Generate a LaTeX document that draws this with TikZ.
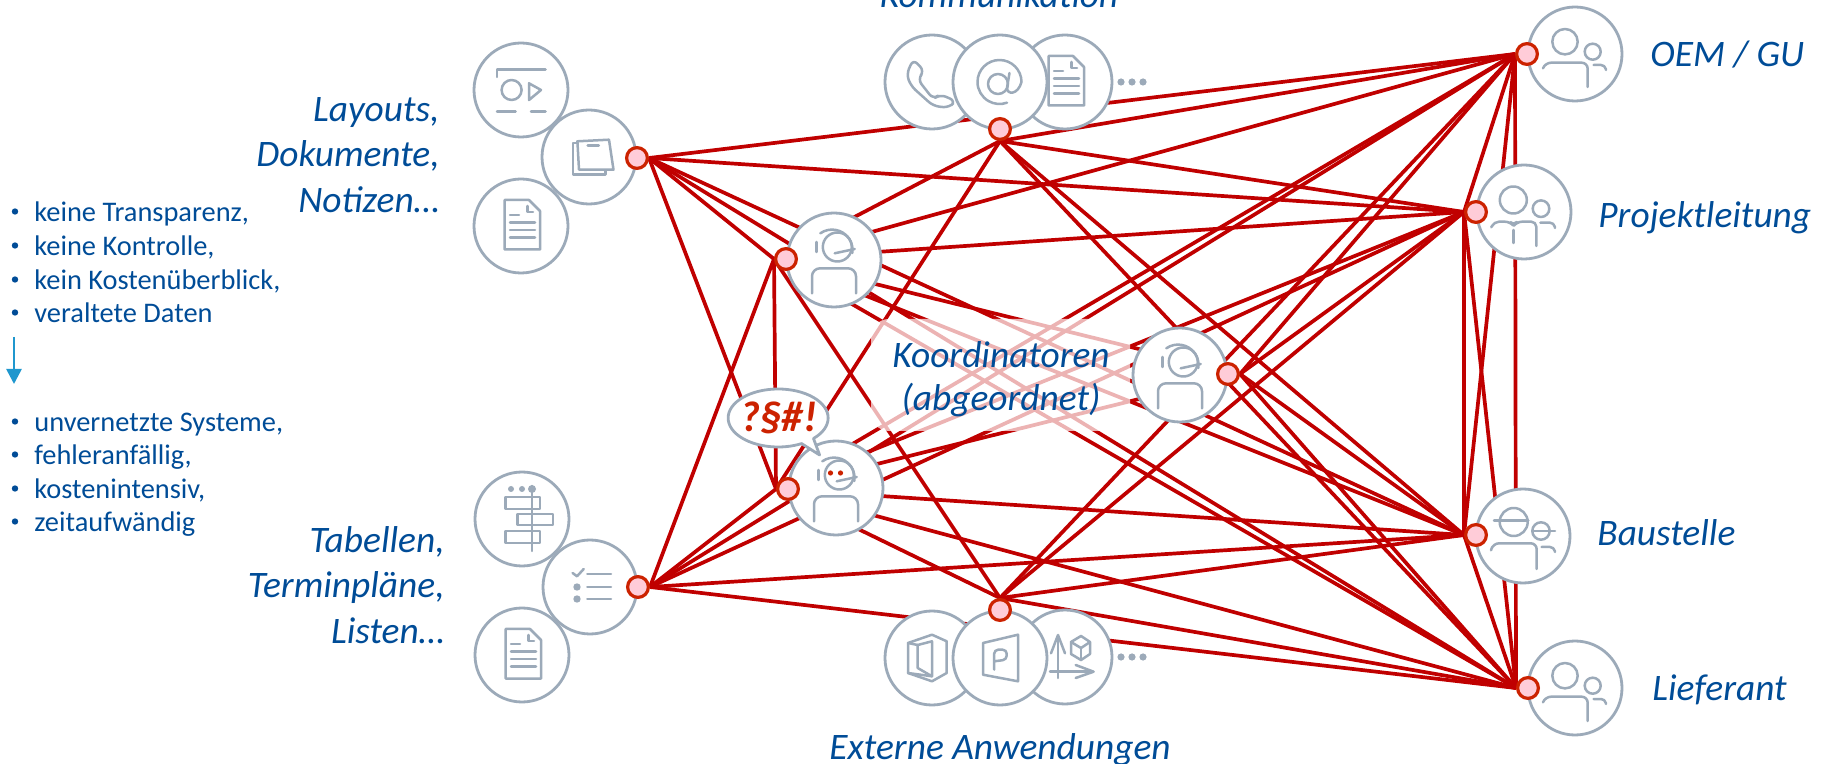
\documentclass[tikz,border=0pt]{standalone}
\usepackage{fontspec}
\setmainfont{Carlito}
\usetikzlibrary{arrows.meta,backgrounds}
\definecolor{linkred}{HTML}{C00000}
\definecolor{dotred}{HTML}{CC2200}
\definecolor{dotpink}{HTML}{FFCCD8}
\definecolor{ringgray}{HTML}{9CAAB9}
\definecolor{textblue}{HTML}{004C97}
\definecolor{arrowblue}{HTML}{1F97CE}
\tikzset{
    personicon/.pic={
        \draw[icon] (-10,-12.3) circle (12.7);
        \draw[icon] (17.7,-2.3) circle (8);
        \draw[icon,rounded corners=3pt] (-32,14.3) -- (-30,8.7) -- (12.7,8.7) -- (12.7,33);
        \draw[icon,rounded corners=2pt] (18.6,11) -- (30,11) -- (31,16);
    },
    leadicon/.pic={
        \draw[icon] (-10.7,-12) circle (13.5);
        \draw[icon] (17,-3.3) circle (8.3);
        \draw[icon,rounded corners=2.5pt] (-32.7,15.3) -- (-30,9.7) -- (-14,9.7) -- (-10.3,14) -- (-7,9.7) -- (12.3,9.7) -- (12.3,34);
        \draw[icon] (-10.3,18) -- (-10.3,31);
        \draw[icon,rounded corners=2pt] (16.3,10.7) -- (30,10.7) -- (31,16);
    },
    siteicon/.pic={
        \draw[icon] (-9.3,-14) circle (14);
        \draw[icon] (-29,-15.7) -- (5.3,-15.7);
        \draw[icon] (18,-5) circle (8.7);
        \draw[icon] (9.7,-5) -- (32,-5);
        \draw[icon,rounded corners=3pt] (-32,14.3) -- (-30,7.3) -- (13.7,7.3) -- (13.7,33);
        \draw[icon,rounded corners=2pt] (18.7,11) -- (31,11) -- (32,16);
    },
    headseticon/.pic={
        \draw[icon] (3.3,-13) circle (14.5);
        \draw[icon] (-13.7,-26.7) arc[start angle=-125,end angle=8,radius=20.5];
        \draw[icon] (-17.7,-18) -- (-17.7,-8);
        \draw[icon] (0.7,-6.7) -- (20.7,-11);
        \draw[icon,rounded corners=4pt] (-22,33.3) -- (-22,8.3) -- (22,8.3) -- (22,33.3);
    },
    docicon/.pic={
        \draw[icon] (-16.5,-26) -- (8,-26) -- (19,-15) -- (19,23.5) -- (-16.5,23.5) -- cycle;
        \draw[icon] (6.7,-20) -- (6.7,-14) -- (12,-14);
        \draw[icon] (-11,-11) -- (-2,-11);
        \foreach \y in {-3.3,4,11.3} {
            \draw[icon] (-11,\y) -- (14,\y);
        }
    },
    mediaicon/.pic={
        \draw[icon] (-24,-13) -- (-24,-20.7) -- (24.5,-20.7);
        \draw[icon] (-9.4,0) circle (10);
        \draw[icon] (8,-6.7) -- (20,0) -- (8,10) -- cycle;
        \draw[icon] (-24,21.7) -- (-5.4,21.7);
        \draw[icon] (10,21.7) -- (24.5,21.7);
    },
    notesicon/.pic={
        \draw[icon] (-11.6,-15.7) -- (20,-17.3) -- (24.5,12.7) -- (-10,12.7) -- cycle;
        \draw[icon] (-11.6,-14) -- (-16,-14) -- (-16,17.7) -- (16.5,17.7) -- (16.5,13.3);
        \draw[icon] (-1.3,-11.7) -- (9.8,-11.7);
    },
    phoneicon/.pic={
        \draw[icon,rounded corners=3pt] (-18.8,-22.7) -- (-25.5,-7.7) -- (-21,4) -- (1.3,24) -- (17,25.7) -- (23.7,19) -- (8,12.3) -- (1.3,17.3) -- (-14.3,-2.7) -- (-7.6,-11) -- cycle;
    },
    aticon/.pic={
        \draw[icon] (-2,2) circle (10);
        \draw[icon] (9.5,-9) -- (7,6) .. controls (7,13) and (18,13) .. (21.5,0) arc[start angle=0,end angle=-290,radius=22];
    },
    officeicon/.pic={
        \draw[icon] (-24,-15) -- (0,-23.3) -- (14.7,-16.7) -- (14.7,15) -- (0,23.3) -- (-24,15) -- cycle;
        \draw[icon] (-24,-15) -- (-14.3,-13);
        \draw[icon] (-14.3,-13) -- (0,-16.7) -- (0,18.3) -- (-14.3,10) -- cycle;
        \draw[icon] (0,18.3) -- (-24,15);
    },
    projecticon/.pic={
        \draw[icon] (-17,-15) -- (18,-23.3) -- (18,23.3) -- (-17,16.7) -- cycle;
        \draw[icon,rounded corners=2pt] (-5.8,11.7) -- (-5.8,-8.3) -- (6.7,-8.3) -- (6.7,1.7) -- (-5.8,3.3);
    },
    axesicon/.pic={
        \draw[icon] (-7,21) -- (-7,-20);
        \draw[icon] (-14,-3.7) -- (-7,-22) -- (0,-3.7);
        \draw[icon] (-15,14.7) -- (27,14.7);
        \draw[icon] (10.7,8) -- (28.6,14.7) -- (10.7,21);
        \draw[icon] (6,-15) -- (16,-21) -- (25,-15) -- (25,-3) -- (16,3) -- (6,-3) -- cycle;
        \draw[icon] (6,-15) -- (16,-9) -- (25,-15);
        \draw[icon] (16,-9) -- (16,3);
    },
    gantticon/.pic={
        \draw[icon] (10,-33) -- (10,32);
        \fill[ringgray] (-11,-30) circle (3) (0,-30) circle (3) (10,-30) circle (4);
        \draw[icon] (-16.5,-22) rectangle (18,-10);
        \draw[icon] (-4.5,-5) rectangle (31,6);
        \draw[icon] (-16.5,12) rectangle (18,24);
    },
    checkicon/.pic={
        \draw[icon] (-17.4,-14) -- (-13,-10.7) -- (-6.3,-18);
        \foreach \y in {-13,0,12} {
            \draw[icon] (-2.7,\y) -- (21,\y);
        }
        \fill[ringgray] (-13,0) circle (3.7) (-13,12) circle (3.7);
    },
}
\begin{document}
\begin{tikzpicture}[
        x=0.5pt,y=-0.5pt,
        ring/.style={circle, draw=ringgray, line width=1.4pt, fill=white, minimum size=47pt, inner sep=0pt},
        dot/.style={circle, draw=dotred, line width=1.6pt, fill=dotpink, minimum size=10.4pt, inner sep=0pt},
        link/.style={draw=linkred, line width=1.85pt},
        veil/.style={fill=white, opacity=0.7, rounded corners=9pt, minimum width=129.5pt, minimum height=56pt, inner sep=0pt},
        icon/.style={draw=ringgray, line width=1.25pt, line cap=round, line join=round},
        trail/.style={circle, fill=ringgray, minimum size=3.6pt, inner sep=0pt},
        caption/.style={text=textblue, font=\fontsize{18.7}{22}\selectfont\itshape, inner sep=0pt, anchor=base},
        stack/.style={text=textblue, align=right, anchor=east, inner sep=0pt, font=\fontsize{18.7}{22.8}\selectfont\itshape},
        entry/.style={text=textblue, font=\fontsize{14.2}{16}\selectfont, inner sep=0pt, anchor=base west},
        listdot/.style={circle, fill=textblue, minimum size=3.2pt, inner sep=0pt},
    ]
    \useasboundingbox (0,0) rectangle (1822,764);

    \node[ring](lay1) at (521,90){};
    \node[ring](lay3) at (521,226){};
    \node[ring](lay2) at (589,157){};
    \node[ring](tab1) at (522,519){};
    \node[ring](tab3) at (522,655){};
    \node[ring](tab2) at (590,587){};
    \node[ring](kom3) at (1065,82){};
    \node[ring](kom1) at (932,82){};
    \node[ring](kom2) at (1000,82){};
    \node[ring](ext3) at (1065,657){};
    \node[ring](ext1) at (932,658){};
    \node[ring](ext2) at (1000,658){};
    \node[ring](koor1) at (834,260){};
    \node[ring](koor2) at (836,488){};
    \node[ring](koor3) at (1180,375){};
    \node[ring](oem) at (1575,54){};
    \node[ring](lead) at (1524,212){};
    \node[ring](site) at (1523,536){};
    \node[ring](supp) at (1575,688){};

    \node[dot](layd) at (637,158){};
    \node[dot](tabd) at (638,587){};
    \node[dot](komd) at (1000,129){};
    \node[dot](extd) at (1000,610){};
    \node[dot](koord1) at (786,259){};
    \node[dot](koord2) at (788,489){};
    \node[dot](koord3) at (1228,374){};
    \node[dot](oemd) at (1527,54){};
    \node[dot](leadd) at (1476,212){};
    \node[dot](sited) at (1476,535){};
    \node[dot](suppd) at (1528,688){};

    \begin{pgfonlayer}{background}
        \foreach \from in {layd.east,tabd.east,komd.south,extd.north,koord1.west,koord2.west,koord3.east} {
            \foreach \to in {oemd.west,leadd.west,sited.west,suppd.west} {
                \draw[link] (\from) -- (\to);
            }
        }
        \foreach \from in {layd.east,tabd.east,komd.south,extd.north} {
            \draw[link] (\from) -- (koord1.west);
            \draw[link] (\from) -- (koord2.west);
        }
        \draw[link] (koord1.west) -- (koord2.west);
        \draw[link] (koord1.west) -- (koord3.east);
        \draw[link] (koord2.west) -- (koord3.east);
        \draw[link] (oemd.west) -- (leadd.west);
        \draw[link] (oemd.west) -- (sited.west);
        \draw[link] (oemd.west) -- (suppd.west);
        \draw[link] (leadd.west) -- (sited.west);
        \draw[link] (leadd.west) -- (suppd.west);
        \draw[link] (sited.west) -- (suppd.west);
        \node[veil](pale) at (1000.5,375){};
    \end{pgfonlayer}

    \pic at (lay1) {mediaicon};
    \pic at (lay2) {notesicon};
    \pic at (lay3) {docicon};
    \pic at (tab1) {gantticon};
    \pic at (tab2) {checkicon};
    \pic at (tab3) {docicon};
    \pic at (kom1) {phoneicon};
    \pic at (kom2) {aticon};
    \pic at (kom3) {docicon};
    \pic at (ext1) {officeicon};
    \pic at (ext2) {projecticon};
    \pic at (ext3) {axesicon};
    \pic at (koor1) {headseticon};
    \pic at (koor2) {headseticon};
    \pic at (koor3) {headseticon};
    \pic at (oem) {personicon};
    \pic at (lead) {leadicon};
    \pic at (site) {siteicon};
    \pic at (supp) {personicon};
    \fill[dotred] (830.5,473) circle (2.6) (840.5,473) circle (2.6);

    \foreach \i/\x/\y in {1/1121/82,2/1132/82,3/1143/82,4/1121/657,5/1132/657,6/1143/657} {
        \node[trail](more\i) at (\x,\y){};
    }

    \draw[draw=ringgray, line width=1.4pt, fill=white, line join=round] (819.6,455) -- (813.5,438.5) arc[start angle=45,end angle=-298,x radius=50,y radius=29] -- cycle;
    \node[text=dotred, inner sep=0pt, anchor=base, font=\fontsize{21.5}{24}\selectfont\bfseries\itshape](swear) at (779,432){?§\#!};

    \node[caption](kommun) at (999,8){Kommunikation};
    \node[caption](extern) at (1000,759){Externe Anwendungen};
    \node[caption](koorA) at (1001,368){Koordinatoren};
    \node[caption](koorB) at (1001,411){(abgeordnet)};
    \node[caption,anchor=base west](oemlabel) at (1650,67){OEM / GU};
    \node[caption,anchor=base west](leadlabel) at (1598,228){Projektleitung};
    \node[caption,anchor=base west](sitelabel) at (1597,546){Baustelle};
    \node[caption,anchor=base west](supplabel) at (1652,700){Lieferant};
    \node[stack](laylabel) at (440,155){Layouts,\\Dokumente,\\Notizen…};
    \node[stack](tablabel) at (445,585){Tabellen,\\Terminpläne,\\Listen…};

    \foreach \i/\txt/\y in {1/{keine Transparenz,}/221.5,2/{keine Kontrolle,}/255.5,3/{kein Kostenüberblick,}/289.5,4/{veraltete Daten}/322.5,5/{unvernetzte Systeme,}/431.5,6/{fehleranfällig,}/464.5,7/{kostenintensiv,}/498.5,8/{zeitaufwändig}/531.5} {
        \node[listdot](dot\i) at (15,\y-10){};
        \node[entry](entry\i) at (34,\y){\txt};
    }

    \coordinate (arrowtop) at (14,337);
    \coordinate (arrowend) at (14,384);
    \draw[draw=arrowblue, line width=1.3pt, -{Triangle[length=7.5pt,width=7.5pt,fill=arrowblue]}] (arrowtop) -- (arrowend);
\end{tikzpicture}
\end{document}
